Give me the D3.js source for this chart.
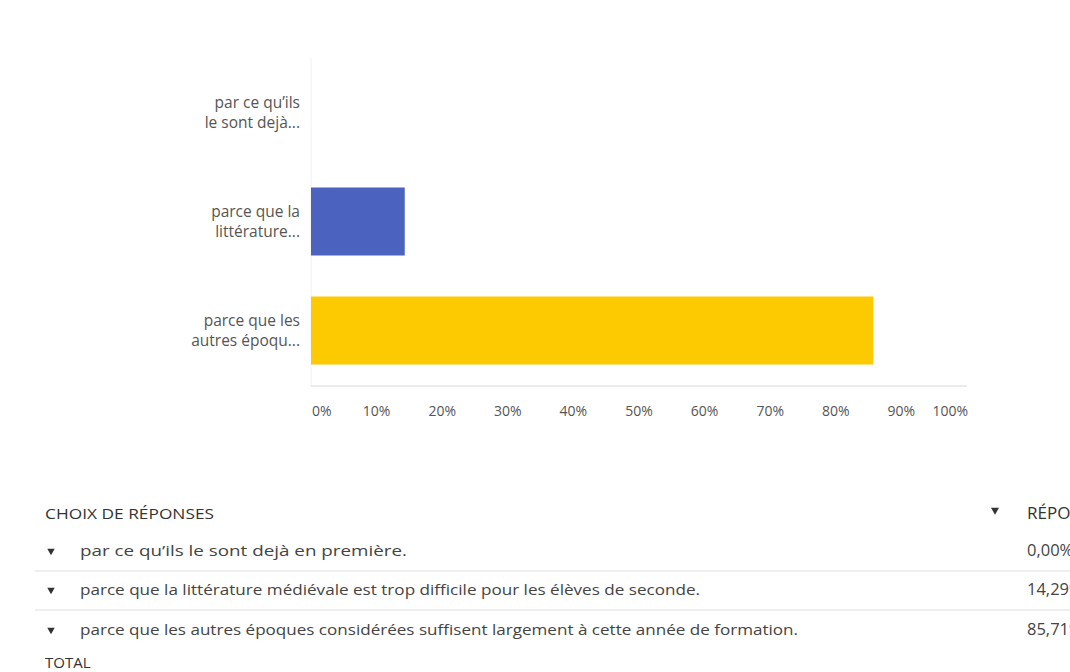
<!DOCTYPE html>
<html>
<head>
<meta charset="utf-8">
<script src="https://cdn.jsdelivr.net/npm/d3@7"></script>
<style>
  html, body { margin: 0; padding: 0; background: #fff; overflow: hidden; }
  svg { display: block; }
</style>
</head>
<body>
<svg id="chart" width="1070" height="672"></svg>
<script>
const categories = ["par ce qu'ils le sont dejà...", "parce que la littérature...", "parce que les autres époqu..."];
const categoryLines = [["par ce qu’ils", "le sont dejà..."], ["parce que la", "littérature..."], ["parce que les", "autres époqu..."]];
const values = [0, 14.29, 85.71];
const barColors = ["#fdc900", "#4c62bf", "#fdc900"];
const tickValues = [0, 10, 20, 30, 40, 50, 60, 70, 80, 90, 100];
const tableChoices = [
  "par ce qu’ils le sont dejà en première.",
  "parce que la littérature médiévale est trop difficile pour les élèves de seconde.",
  "parce que les autres époques considérées suffisent largement à cette année de formation."
];
const tableValues = ["0,00%", "14,29%", "85,71%"];
const tableHeader = ["CHOIX DE RÉPONSES", "RÉPONSES"];
const totalLabel = "TOTAL";

const svg = d3.select("#chart");
const font = "Open Sans, sans-serif";

const x = d3.scaleLinear().domain([0, 100]).range([311, 967]);
const y = d3.scaleBand().domain(categories).range([58, 385]).paddingInner(0.376).paddingOuter(0.188);

// axis lines
svg.append("line").attr("x1", x(0)).attr("x2", x(0)).attr("y1", 58).attr("y2", 386)
  .attr("stroke", "#f0f0f0").attr("stroke-width", 1);
svg.append("line").attr("x1", x(0)).attr("x2", x(100)).attr("y1", 386).attr("y2", 386)
  .attr("stroke", "#d8d8d8").attr("stroke-width", 1);

// bars
svg.append("g").selectAll("rect").data(values).join("rect")
  .attr("x", x(0))
  .attr("y", (d, i) => y(categories[i]))
  .attr("width", d => x(d) - x(0))
  .attr("height", y.bandwidth())
  .attr("fill", (d, i) => barColors[i]);

// y labels
const yl = svg.append("g").selectAll("text").data(categories).join("text")
  .attr("x", 300)
  .attr("y", d => y(d) + y.bandwidth() / 2)
  .attr("text-anchor", "end")
  .attr("font-family", font).attr("font-size", 15.5).attr("fill", "#555");
yl.each(function(d, i) {
  const t = d3.select(this);
  categoryLines[i].forEach((ln, j) => {
    t.append("tspan").attr("x", 300).attr("dy", j === 0 ? "-0.3em" : "1.3em").text(ln);
  });
});

// x tick labels
svg.append("g").selectAll("text").data(tickValues).join("text")
  .attr("x", d => d === 0 ? x(d) + 1 : (d === 100 ? x(d) + 1 : x(d)))
  .attr("y", 416)
  .attr("text-anchor", d => d === 0 ? "start" : (d === 100 ? "end" : "middle"))
  .attr("font-family", font).attr("font-size", 14).attr("fill", "#555")
  .text(d => d + "%");

// table
const tf = "Open Sans, sans-serif";
svg.append("text").attr("x", 45).attr("y", 519).attr("font-family", tf).attr("font-size", 15)
  .attr("fill", "#333").attr("textLength", 169).attr("lengthAdjust", "spacingAndGlyphs").text(tableHeader[0]);
svg.append("path").attr("d", d3.symbol(d3.symbolTriangle, 28)()).attr("transform", "translate(995,510) rotate(180)").attr("fill", "#333");
svg.append("text").attr("x", 1027).attr("y", 519).attr("font-family", tf).attr("font-size", 17)
  .attr("fill", "#333").text(tableHeader[1]);

const rowY = [556, 595, 635];
const rowLen = [327, 620, 718];
tableChoices.forEach((c, i) => {
  svg.append("path").attr("d", d3.symbol(d3.symbolTriangle, 24)()).attr("transform", `translate(51,${rowY[i] - 5}) rotate(180)`).attr("fill", "#333");
  svg.append("text").attr("x", 80).attr("y", rowY[i]).attr("font-family", tf).attr("font-size", 15)
    .attr("fill", "#444").attr("textLength", rowLen[i]).attr("lengthAdjust", "spacingAndGlyphs").text(c);
  svg.append("text").attr("x", 1027).attr("y", rowY[i]).attr("font-family", tf).attr("font-size", 16.5)
    .attr("fill", "#444").text(tableValues[i]);
  if (i < 2) {
    svg.append("line").attr("x1", 35).attr("x2", 1070).attr("y1", rowY[i] + 15).attr("y2", rowY[i] + 15)
      .attr("stroke", "#ddd").attr("stroke-width", 1);
  }
});
svg.append("text").attr("x", 45).attr("y", 668).attr("font-family", tf).attr("font-size", 15)
  .attr("fill", "#333").text(totalLabel);
</script>
</body>
</html>
